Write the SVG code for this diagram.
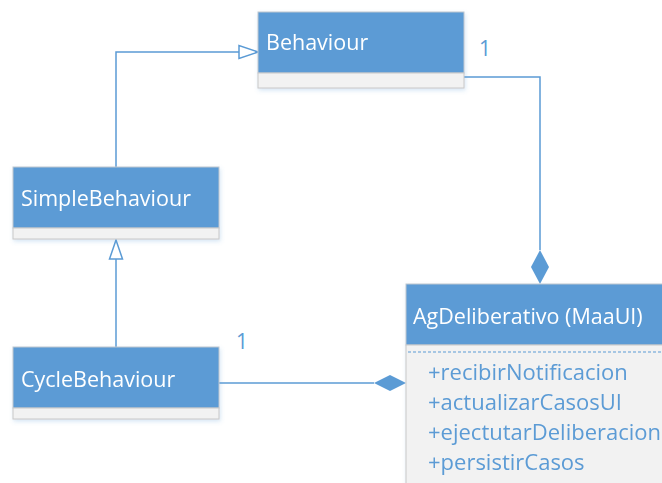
<svg xmlns="http://www.w3.org/2000/svg" width="662" height="483" viewBox="0 0 662 483">
  <style>
    .hdr { fill: #5B9BD5; stroke: #BFC7D0; stroke-width: 1; }
    .cmp { fill: #F2F2F2; stroke: #C8C8C8; stroke-width: 1; }
    .name { font-family: "Open Sans", "Noto Sans", sans-serif; font-size: 21.5px; fill: #FFFFFF; }
    .op { font-family: "Open Sans", "Noto Sans", sans-serif; font-size: 22px; fill: #5B9BD5; }
    .mult { font-family: "Open Sans", "Noto Sans", sans-serif; font-size: 21px; fill: #5B9BD5; }
    .edge { fill: none; stroke: #5B9BD5; stroke-width: 1.5; }
  </style>
  <defs>
    <filter id="shadow" x="-10%" y="-10%" width="130%" height="140%">
      <feGaussianBlur in="SourceAlpha" stdDeviation="2"/>
      <feOffset dx="1" dy="2" result="b"/>
      <feFlood flood-color="#5B9BD5" flood-opacity="0.25"/>
      <feComposite in2="b" operator="in"/>
      <feMerge><feMergeNode/><feMergeNode in="SourceGraphic"/></feMerge>
    </filter>
  </defs>
  <rect width="662" height="483" fill="#FFFFFF"/>

  <!-- connectors -->
  <g id="connectors">
    <!-- SimpleBehaviour generalizes Behaviour -->
    <polyline class="edge" points="116,167 116,52 239,52"/>
    <polygon points="258,52 239,45.5 239,58.5" fill="#FFFFFF" stroke="#5B9BD5" stroke-width="1.5"/>
    <!-- CycleBehaviour generalizes SimpleBehaviour -->
    <line class="edge" x1="116" y1="347" x2="116" y2="259"/>
    <polygon points="116,240 109.5,259 122.5,259" fill="#FFFFFF" stroke="#5B9BD5" stroke-width="1.5"/>
    <!-- Behaviour composed into AgDeliberativo -->
    <polyline class="edge" points="464,77 540,77 540,250"/>
    <polygon points="540,250 549,267 540,284 531,267" fill="#5B9BD5"/>
    <text class="mult" x="479" y="56">1</text>
    <!-- CycleBehaviour composed into AgDeliberativo -->
    <line class="edge" x1="219" y1="383" x2="374" y2="383"/>
    <polygon points="374,383 390,375 406,383 390,391" fill="#5B9BD5"/>
    <text class="mult" x="236" y="349">1</text>
  </g>

  <g id="behaviour" filter="url(#shadow)">
    <rect class="hdr" x="258" y="12" width="206" height="61"/>
    <rect class="cmp" x="258" y="73" width="206" height="15"/>
    <text class="name" x="266" y="50">Behaviour</text>
  </g>

  <g id="simpleBehaviour" filter="url(#shadow)">
    <rect class="hdr" x="13" y="167" width="206" height="61"/>
    <rect class="cmp" x="13" y="228" width="206" height="11"/>
    <text class="name" x="21" y="206">SimpleBehaviour</text>
  </g>

  <g id="cycleBehaviour" filter="url(#shadow)">
    <rect class="hdr" x="13" y="347" width="206" height="61"/>
    <rect class="cmp" x="13" y="408" width="206" height="11"/>
    <text class="name" x="21" y="387">CycleBehaviour</text>
  </g>

  <g id="agDeliberativo" filter="url(#shadow)">
    <rect class="hdr" x="406" y="284" width="270" height="61"/>
    <rect class="cmp" x="406" y="345" width="270" height="150"/>
    <line x1="408" y1="352" x2="662" y2="352" stroke="#5B9BD5" stroke-width="1" stroke-dasharray="3,2"/>
    <text class="name" x="413" y="324">AgDeliberativo (MaaUI)</text>
    <text class="op" x="428" y="380">+recibirNotificacion</text>
    <text class="op" x="428" y="410">+actualizarCasosUI</text>
    <text class="op" x="428" y="440">+ejectutarDeliberacion</text>
    <text class="op" x="428" y="470">+persistirCasos</text>
  </g>
</svg>
